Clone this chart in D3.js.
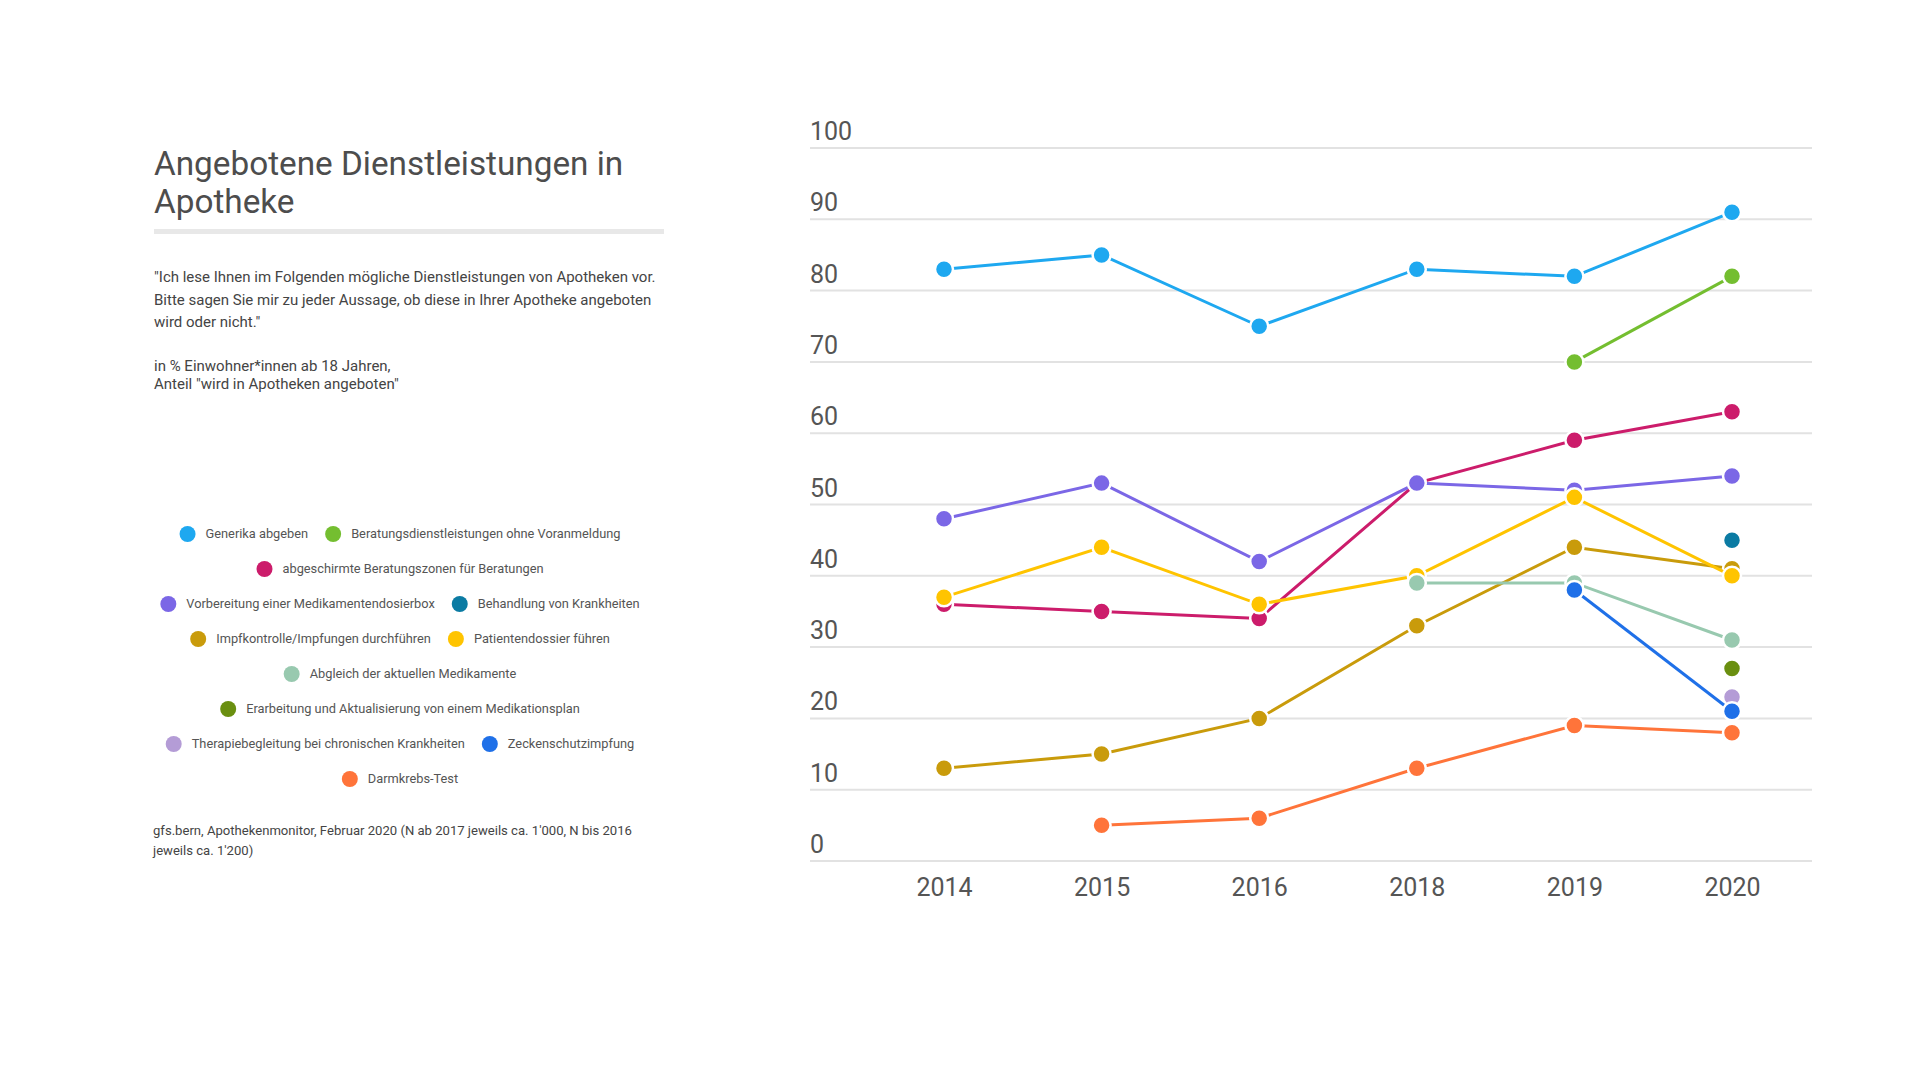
<!DOCTYPE html>
<html>
<head>
<meta charset="utf-8">
<script src="https://cdn.jsdelivr.net/npm/d3@7"></script>
<style>
  body { margin: 0; background: #fff; }
  svg { display: block; font-family: Roboto, "Noto Sans", sans-serif; }
</style>
</head>
<body>
<div id="chart"></div>
<script>
const years = ["2014", "2015", "2016", "2018", "2019", "2020"];
const seriesNames = [
  "Generika abgeben",
  "Beratungsdienstleistungen ohne Voranmeldung",
  "abgeschirmte Beratungszonen für Beratungen",
  "Vorbereitung einer Medikamentendosierbox",
  "Behandlung von Krankheiten",
  "Impfkontrolle/Impfungen durchführen",
  "Patientendossier führen",
  "Abgleich der aktuellen Medikamente",
  "Erarbeitung und Aktualisierung von einem Medikationsplan",
  "Therapiebegleitung bei chronischen Krankheiten",
  "Zeckenschutzimpfung",
  "Darmkrebs-Test"
];
const seriesColors = [
  "#1ea8f0", "#74be30", "#cc1c6b", "#7b67e6", "#0b7ba3", "#c99b0b",
  "#ffc400", "#98c9af", "#6a8f10", "#b49cd6", "#1f70e8", "#ff743a"
];
const seriesValues = [
  [83, 85, 75, 83, 82, 91],
  [null, null, null, null, 70, 82],
  [36, 35, 34, 53, 59, 63],
  [48, 53, 42, 53, 52, 54],
  [null, null, null, null, null, 45],
  [13, 15, 20, 33, 44, 41],
  [37, 44, 36, 40, 51, 40],
  [null, null, null, 39, 39, 31],
  [null, null, null, null, null, 27],
  [null, null, null, null, null, 23],
  [null, null, null, null, 38, 21],
  [null, 5, 6, 13, 19, 18]
];
const yTicks = [0, 10, 20, 30, 40, 50, 60, 70, 80, 90, 100];

const width = 1920, height = 1080;
const svg = d3.select("#chart").append("svg")
  .attr("width", width).attr("height", height);

// left text block
const left = 154, blockRight = 664;
svg.append("text").attr("x", left).attr("y", 175)
  .attr("font-size", 33.3).attr("fill", "#4d4d4d")
  .selectAll("tspan").data(["Angebotene Dienstleistungen in", "Apotheke"]).enter()
  .append("tspan").attr("x", left).attr("dy", (d, i) => i ? 38 : 0).text(d => d);

svg.append("rect").attr("x", left).attr("y", 229)
  .attr("width", blockRight - left).attr("height", 5).attr("fill", "#e8e8e8");

const subLines = [
  "\"Ich lese Ihnen im Folgenden mögliche Dienstleistungen von Apotheken vor.",
  "Bitte sagen Sie mir zu jeder Aussage, ob diese in Ihrer Apotheke angeboten",
  "wird oder nicht.\""
];
svg.append("g").selectAll("text").data(subLines).enter().append("text")
  .attr("x", left).attr("y", (d, i) => 282 + i * 22.5)
  .attr("font-size", 15).attr("fill", "#444").text(d => d);

svg.append("g").selectAll("text")
  .data(["in % Einwohner*innen ab 18 Jahren,", "Anteil \"wird in Apotheken angeboten\""])
  .enter().append("text")
  .attr("x", left).attr("y", (d, i) => 371 + i * 18)
  .attr("font-size", 15).attr("fill", "#444").text(d => d);

// legend, wrapped and centred
const legend = svg.append("g");
const legendCenter = 400, legendMax = 500;
let rows = [[]], rowW = [0];
seriesNames.forEach((name, i) => {
  const g = legend.append("g");
  g.append("circle").attr("r", 8).attr("cx", 8).attr("fill", seriesColors[i]);
  const t = g.append("text").attr("x", 26).attr("dy", "0.35em")
    .attr("font-size", 12.8).attr("fill", "#555").text(name);
  const w = 26 + t.node().getComputedTextLength();
  let r = rows.length - 1;
  const add = rows[r].length ? 17 + w : w;
  if (rowW[r] + add > legendMax && rows[r].length) {
    rows.push([]); rowW.push(0); r++;
    rowW[r] = w;
  } else {
    rowW[r] += add;
  }
  rows[r].push({ g, w });
});
rows.forEach((row, r) => {
  let x = legendCenter - rowW[r] / 2;
  row.forEach(item => {
    item.g.attr("transform", `translate(${x},${534 + r * 35})`);
    x += item.w + 17;
  });
});

svg.append("g").selectAll("text")
  .data(["gfs.bern, Apothekenmonitor, Februar 2020 (N ab 2017 jeweils ca. 1'000, N bis 2016", "jeweils ca. 1'200)"])
  .enter().append("text")
  .attr("x", 153).attr("y", (d, i) => 835 + i * 20)
  .attr("font-size", 13.1).attr("fill", "#444").text(d => d);

// chart
const gridLeft = 810, gridRight = 1812;
const x = d3.scalePoint().domain(years).range([944, 1732]);
const y = d3.scaleLinear().domain([0, 100]).range([861, 148]);

const grid = svg.append("g");
grid.selectAll("line").data(yTicks).enter().append("line")
  .attr("x1", gridLeft).attr("x2", gridRight)
  .attr("y1", d => y(d)).attr("y2", d => y(d))
  .attr("stroke", "#e2e2e2").attr("stroke-width", 2);
grid.selectAll("text").data(yTicks).enter().append("text")
  .attr("x", gridLeft).attr("y", d => y(d) - 8)
  .attr("font-size", 25).attr("fill", "#555").text(d => d);

const xAxis = svg.append("g").attr("transform", `translate(0,${y(0)})`)
  .call(d3.axisBottom(x).tickSize(0).tickPadding(17));
xAxis.select(".domain").remove();
xAxis.selectAll("text").attr("font-size", 25).attr("fill", "#555")
  .attr("font-family", "Roboto, sans-serif");

const line = d3.line()
  .defined(d => d.v != null)
  .x(d => x(d.year)).y(d => y(d.v));

seriesNames.forEach((name, i) => {
  const pts = years.map((yr, j) => ({ year: yr, v: seriesValues[i][j] }));
  const g = svg.append("g");
  g.append("path").datum(pts).attr("d", line)
    .attr("fill", "none").attr("stroke", seriesColors[i]).attr("stroke-width", 3);
  g.selectAll("circle").data(pts.filter(d => d.v != null)).enter().append("circle")
    .attr("cx", d => x(d.year)).attr("cy", d => y(d.v)).attr("r", 9)
    .attr("fill", seriesColors[i]).attr("stroke", "#fff").attr("stroke-width", 2.5);
});
</script>
</body>
</html>
